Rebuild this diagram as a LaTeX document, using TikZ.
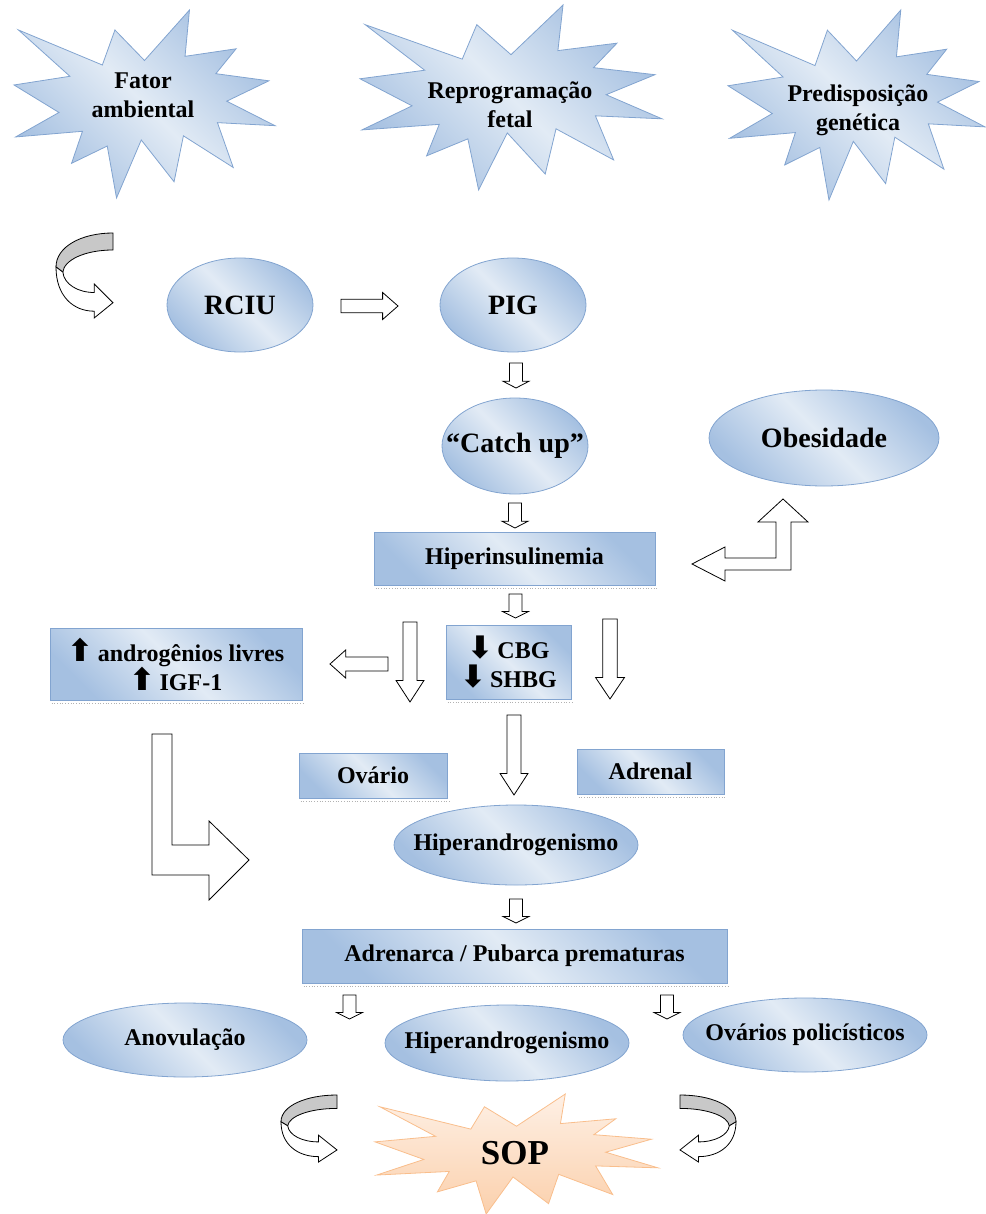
\documentclass[tikz,border=0pt]{standalone}
\usepackage{fontspec}
\setmainfont{Liberation Serif}
\newfontfamily\arrowfont{DejaVu Sans}
\usetikzlibrary{shapes.geometric}

\definecolor{bluelight}{RGB}{226,235,245}
\definecolor{bluedark}{RGB}{165,192,225}
\definecolor{blueline}{RGB}{130,164,208}
\definecolor{peachlight}{RGB}{254,240,229}
\definecolor{peachdark}{RGB}{251,208,172}
\definecolor{peachline}{RGB}{249,190,140}
\definecolor{ribbon}{RGB}{200,200,200}

\newcommand{\thickup}{{\arrowfont\fontsize{31}{29}\selectfont ⬆}}
\newcommand{\thickdown}{{\arrowfont\fontsize{31}{29}\selectfont ⬇}}

\begin{document}
\begin{tikzpicture}[x=1pt, y=-1pt,
  txt/.style={font=\fontsize{24}{29}\selectfont\bfseries, align=center, inner sep=0pt},
  bigtxt/.style={font=\fontsize{28}{32}\selectfont\bfseries},
  shadowdots/.style={draw=gray!60, dotted, line width=0.7pt},
  shadowed/.style={append after command={([shift={(2,3)}]\tikzlastnode.south west)
    edge[shadowdots] ([shift={(2,3)}]\tikzlastnode.south east)}},
  bluebox/.style={txt, rectangle, draw=blueline, line width=0.8pt,
    top color=bluedark, bottom color=bluedark, middle color=bluelight, shading angle=-45},
  blueoval/.style={bluebox, ellipse},
  hollow/.style={draw=black, fill=white, line width=0.8pt, line join=miter},
  sealfill/.style={draw=blueline, line width=0.8pt, line join=miter,
    top color=bluedark, bottom color=bluedark, middle color=bluelight, shading angle=-45},
  seal/.pic={
    \path[sealfill] (0.5,0.2685) -- (0.6723,0) -- (0.6553,0.2465) -- (0.8509,0.2063)
      -- (0.7733,0.3387) -- (0.9767,0.3767) -- (0.8151,0.4850) -- (1,0.6153)
      -- (0.7795,0.5992) -- (0.8400,0.8377) -- (0.6491,0.6693) -- (0.6133,0.9137)
      -- (0.4876,0.6914) -- (0.3928,1) -- (0.3572,0.7235) -- (0.2205,0.8156)
      -- (0.2624,0.6452) -- (0.00625,0.6753) -- (0.1723,0.5451) -- (0,0.3988)
      -- (0.2142,0.3526) -- (0.0171,0.1063) -- (0.3385,0.2926) -- (0.3867,0.1063) -- cycle;
  },
  blockarr/.pic={
    \draw[hollow] (0,-0.25) -- (0.73,-0.25) -- (0.73,-0.5) -- (1,0) -- (0.73,0.5)
      -- (0.73,0.25) -- (0,0.25) -- cycle;
  },
  uturn/.pic={
    \draw[hollow, fill=ribbon] (1,0) .. controls (0.45,0) and (0,0.16) .. (0,0.40)
      -- (0.12,0.46) .. controls (0.14,0.32) and (0.5,0.2) .. (1,0.2) -- cycle;
    \draw[hollow] (0,0.40) .. controls (0,0.74) and (0.3,0.92) .. (0.67,0.92)
      -- (0.67,1) -- (1,0.82) -- (0.67,0.60) -- (0.67,0.70)
      .. controls (0.38,0.70) and (0.14,0.60) .. (0.12,0.46) -- cycle;
  }]
  \useasboundingbox (0,0) rectangle (985,1214);

  % causes
  \pic[xscale=261, yscale=188] at (14,10) {seal};
  \pic[xscale=302, yscale=185] at (360,5) {seal};
  \pic[xscale=257, yscale=190] at (728,10) {seal};
  \node[txt] (fator)   at (143,95)  {Fator\\ambiental};
  \node[txt] (reprog)  at (510,105) {Reprogramação\\fetal};
  \node[txt] (predisp) at (858,110) {Predisposição\\genética};

  \pic[xscale=57, yscale=85] at (56,233) {uturn};

  \node[blueoval, bigtxt, minimum width=146, minimum height=94] (rciu)     at (240,305) {\makebox[0pt]{RCIU}};
  \node[blueoval, bigtxt, minimum width=146, minimum height=94] (pig)      at (513,305) {\makebox[0pt]{PIG}};
  \node[blueoval, bigtxt, minimum width=146, minimum height=96] (catchup)  at (515,446) {\makebox[0pt]{“Catch up”}};
  \node[blueoval, bigtxt, minimum width=230, minimum height=96] (obesidade) at (824,438) {\makebox[0pt]{Obesidade}};
  \node[bluebox, shadowed, minimum width=281, minimum height=53] (hiperins) at (514.5,558.5) {Hiperinsulinemia};
  \node[bluebox, shadowed, minimum width=252, minimum height=72] (androg)   at (176,664) {\thickup\,androgênios livres\\\thickup\,IGF-1};
  \node[bluebox, shadowed, minimum width=125, minimum height=74] (cbg)      at (508.5,662) {\thickdown\,CBG\\\thickdown\,SHBG};
  \node[bluebox, shadowed, minimum width=148, minimum height=45] (ovario)   at (373,775.5) {Ovário};
  \node[bluebox, shadowed, minimum width=147, minimum height=45] (adrenal)  at (650.5,771.5) {Adrenal};
  \node[blueoval, minimum width=244, minimum height=80] (hiperandro) at (516,845) {\makebox[0pt]{Hiperandrogenismo}};
  \node[bluebox, shadowed, minimum width=425, minimum height=54] (adrenarca) at (514.5,956) {Adrenarca / Pubarca prematuras};
  \node[blueoval, minimum width=244, minimum height=74] (anovul)   at (185,1040) {\makebox[0pt]{Anovulação}};
  \node[blueoval, minimum width=244, minimum height=76] (hiperandrob) at (507,1043) {\makebox[0pt]{Hiperandrogenismo}};
  \node[blueoval, minimum width=244, minimum height=74] (ovarios)  at (805,1035) {\makebox[0pt]{Ovários policísticos}};

  % outcome
  \pic[xscale=283, yscale=120, sealfill/.style={draw=peachline, line width=0.8pt, line join=miter,
    top color=peachlight, bottom color=peachdark}] at (375,1094) {seal};
  \node[txt, font=\fontsize{35}{40}\selectfont\bfseries] (sop) at (515,1153) {SOP};
  \pic[xscale=56, yscale=67] at (281,1095) {uturn};
  \pic[xscale=-56, yscale=67] at (736,1095) {uturn};

  % block arrows
  \pic[xscale=57, yscale=27] at (341,306) {blockarr};
  \pic[rotate=-90, xscale=25, yscale=26] at (516,363) {blockarr};
  \pic[rotate=-90, xscale=25, yscale=26] at (515,503) {blockarr};
  \pic[rotate=-90, xscale=24, yscale=26] at (515.5,594) {blockarr};
  \pic[rotate=180, xscale=58, yscale=28] at (388,664) {blockarr};
  \pic[rotate=-90, xscale=80, yscale=28] at (410,622) {blockarr};
  \pic[rotate=-90, xscale=80, yscale=29] at (610,619) {blockarr};
  \pic[rotate=-90, xscale=80, yscale=28] at (514,715) {blockarr};
  \pic[rotate=-90, xscale=24, yscale=26] at (516,899) {blockarr};
  \pic[rotate=-90, xscale=24, yscale=26] at (349.5,995) {blockarr};
  \pic[rotate=-90, xscale=24, yscale=26] at (667,995) {blockarr};

  \draw[hollow] (152,734) -- (172,734) -- (172,845) -- (209,845) -- (209,821) -- (249,860)
    -- (209,900) -- (209,875) -- (152,875) -- cycle;
  \draw[hollow] (692,564) -- (725,547) -- (725,558) -- (776,558) -- (776,522) -- (758,522)
    -- (783,499) -- (808,522) -- (791,522) -- (791,570) -- (725,570) -- (725,581) -- cycle;
\end{tikzpicture}
\end{document}
